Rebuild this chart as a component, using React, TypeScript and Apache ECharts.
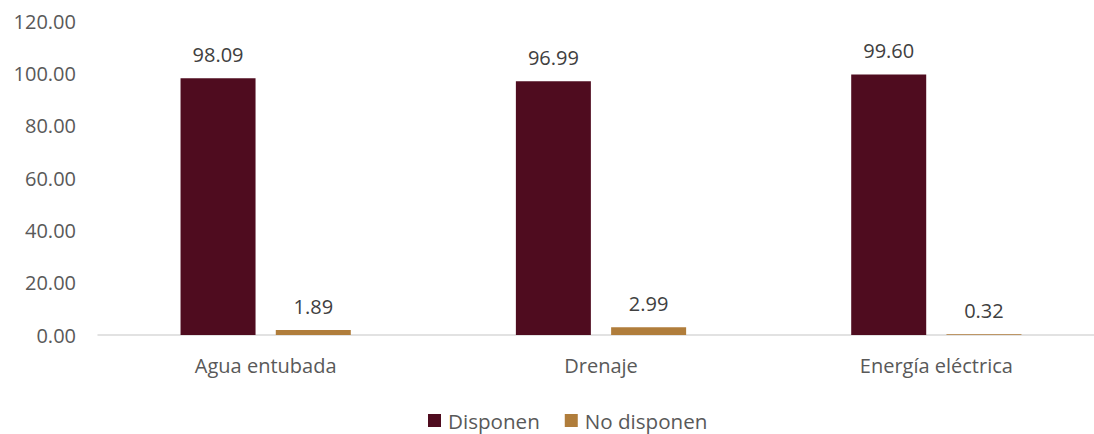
import React, { useEffect, useRef } from "react";
import * as echarts from "echarts";

const categories = ["Agua entubada", "Drenaje", "Energía eléctrica"];
const disponen = [98.09, 96.99, 99.6];
const noDisponen = [1.89, 2.99, 0.32];
const seriesNames = ["Disponen", "No disponen"];

const FONT = "'Open Sans', 'Noto Sans', sans-serif";

export default function App() {
  const ref = useRef<HTMLDivElement>(null);
  useEffect(() => {
    if (!ref.current) return;
    const chart = echarts.init(ref.current, undefined, { renderer: "svg" });
    const label = {
      show: true,
      position: "top",
      distance: 14,
      fontFamily: FONT,
      fontSize: 20,
      color: "#404040",
      formatter: (p: any) => Number(p.value).toFixed(2),
    };
    chart.setOption({
      animation: false,
      textStyle: { fontFamily: FONT },
      grid: { left: 98, top: 21, width: 1006, height: 314, containLabel: false },
      legend: {
        left: 428,
        top: 410,
        padding: 0,
        itemWidth: 13,
        itemHeight: 13,
        itemGap: 25,
        icon: "rect",
        textStyle: { fontFamily: FONT, fontSize: 20.6, color: "#595959", padding: [0, 0, 0, 2] },
        data: seriesNames,
      },
      xAxis: {
        type: "category",
        data: categories,
        axisLine: { lineStyle: { color: "#D9D9D9", width: 1.5 } },
        axisTick: { show: false },
        axisLabel: { fontFamily: FONT, fontSize: 20, color: "#595959", margin: 20 },
      },
      yAxis: {
        type: "value",
        min: 0,
        max: 120,
        interval: 20,
        splitLine: { show: false },
        axisLine: { show: false },
        axisTick: { show: false },
        axisLabel: {
          fontFamily: FONT,
          fontSize: 20,
          color: "#595959",
          margin: 22,
          formatter: (v: number) => v.toFixed(2),
        },
      },
      series: [
        {
          name: seriesNames[0],
          type: "bar",
          data: disponen,
          barWidth: 75,
          barGap: "27%",
          itemStyle: { color: "#4F0C1F" },
          label,
        },
        {
          name: seriesNames[1],
          type: "bar",
          data: noDisponen,
          barWidth: 75,
          itemStyle: { color: "#B07D3B" },
          label,
        },
      ],
    });
    return () => chart.dispose();
  }, []);
  return (
    <div
      style={{ position: "absolute", left: 0, top: 0, width: 1094, height: 434, overflow: "hidden" }}
    >
      <div ref={ref} style={{ width: 1110, height: 434 }} />
    </div>
  );
}
